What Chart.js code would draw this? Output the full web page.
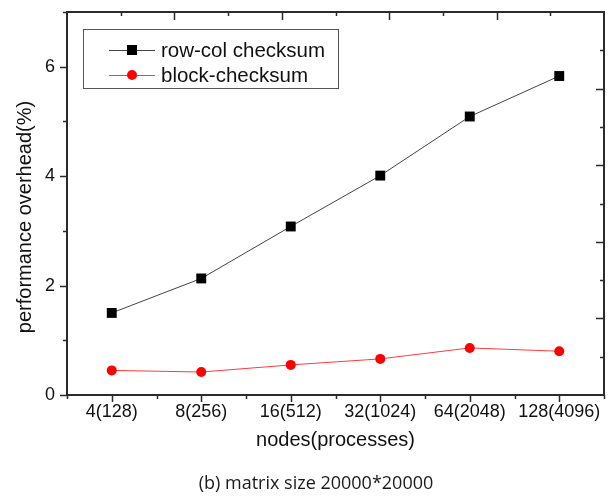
<!DOCTYPE html>
<html>
<head>
<meta charset="utf-8">
<script src="https://cdn.jsdelivr.net/npm/chart.js@4.4.1/dist/chart.umd.min.js"></script>
<style>
  body { margin: 0; background: #fff; }
  #wrap { width: 611px; height: 501px; }
</style>
</head>
<body>
<div id="wrap"><canvas id="chart" width="611" height="501"></canvas></div>
<script>
// ---------------- data ----------------
const categories = ['4(128)', '8(256)', '16(512)', '32(1024)', '64(2048)', '128(4096)'];
const rowColChecksum = [1.5, 2.13, 3.08, 4.01, 5.09, 5.83];
const blockChecksum = [0.45, 0.42, 0.55, 0.66, 0.86, 0.8];
const yTickLabels = [0, 2, 4, 6];
const seriesNames = ['row-col checksum', 'block-checksum'];
const yTitle = 'performance overhead(%)';
const caption = '(b) matrix size 20000*20000';

const FONT = "'Liberation Sans', Arial, sans-serif";
const AXIS = '#2b2b2b';

// ---------------- little tick marks round the frame ----------------
const frameTicks = {
  id: 'frameTicks',
  afterDraw(chart) {
    const ctx = chart.ctx;
    const a = chart.chartArea;
    const s = chart.scales;
    ctx.save();
    ctx.strokeStyle = AXIS;
    ctx.lineWidth = 1.5;
    ctx.beginPath();
    // left axis, outward
    s.y.ticks.forEach(t => {
      const py = Math.round(s.y.getPixelForValue(t.value)) + 0.5;
      const len = t.value % 2 === 0 ? 7 : 4;
      ctx.moveTo(a.left, py); ctx.lineTo(a.left - len, py);
    });
    // right axis, inward
    s.y2.ticks.forEach(t => {
      if (t.value === 0 || t.value === 10) return;
      const py = Math.round(s.y2.getPixelForValue(t.value)) + 0.5;
      const len = t.value % 2 === 0 ? 8 : 4;
      ctx.moveTo(a.right, py); ctx.lineTo(a.right - len, py);
    });
    // top axis, inward
    s.x2.ticks.forEach(t => {
      if (t.value === 0 || t.value === 10) return;
      const px = Math.round(s.x2.getPixelForValue(t.value)) + 0.5;
      const len = t.value % 2 === 0 ? 8 : 4;
      ctx.moveTo(px, a.top); ctx.lineTo(px, a.top + len);
    });
    // bottom axis, outward: long at categories, short between
    const step = s.x.getPixelForValue(1) - s.x.getPixelForValue(0);
    categories.forEach((c, i) => {
      const px = Math.round(s.x.getPixelForValue(i)) + 0.5;
      ctx.moveTo(px, a.bottom); ctx.lineTo(px, a.bottom + 7);
      const bx = Math.round(s.x.getPixelForValue(i) + step / 2) + 0.5;
      ctx.moveTo(bx, a.bottom); ctx.lineTo(bx, a.bottom + 4);
    });
    ctx.moveTo(a.left + 0.5, a.bottom); ctx.lineTo(a.left + 0.5, a.bottom + 4);
    ctx.stroke();

    // y title and caption
    ctx.fillStyle = '#111';
    ctx.textAlign = 'center';
    ctx.textBaseline = 'middle';
    ctx.save();
    ctx.translate(25, 217);
    ctx.rotate(-Math.PI / 2);
    ctx.font = '20px ' + FONT;
    ctx.fillText(yTitle, 0, 0);
    ctx.restore();
    ctx.fillStyle = '#1a1a1a';
    ctx.font = "500 18px 'Open Sans', sans-serif";
    ctx.fillText(caption, 316, 484);
    ctx.restore();
  }
};

// ---------------- boxed legend inside the plot ----------------
const boxLegend = {
  id: 'boxLegend',
  afterDraw(chart) {
    const ctx = chart.ctx;
    const a = chart.chartArea;
    const x0 = a.left + 16, y0 = a.top + 17, w = 255, h = 59;
    ctx.save();
    ctx.fillStyle = '#fff';
    ctx.fillRect(x0, y0, w, h);
    ctx.strokeStyle = '#555';
    ctx.lineWidth = 1;
    ctx.strokeRect(x0 + 0.5, y0 + 0.5, w, h);
    chart.data.datasets.forEach((ds, i) => {
      const cy = y0 + 21 + i * 25;
      ctx.strokeStyle = ds.borderColor;
      ctx.lineWidth = 1;
      ctx.beginPath();
      ctx.moveTo(x0 + 26, cy + 0.5); ctx.lineTo(x0 + 72, cy + 0.5);
      ctx.stroke();
      ctx.fillStyle = ds.pointBackgroundColor;
      if (ds.pointStyle === 'rect') {
        ctx.fillRect(x0 + 44, cy - 5, 10, 10);
      } else {
        ctx.beginPath();
        ctx.arc(x0 + 49, cy, 5, 0, Math.PI * 2);
        ctx.fill();
      }
      ctx.fillStyle = '#111';
      ctx.font = '20.5px ' + FONT;
      ctx.textBaseline = 'middle';
      ctx.fillText(ds.label, x0 + 78, cy + 1);
    });
    ctx.restore();
  }
};

let ctx = document.getElementById('chart').getContext('2d');
let myChart = new Chart(ctx, {
  type: 'line',
  data: {
    labels: categories,
    datasets: [{
      label: seriesNames[0],
      data: rowColChecksum,
      borderColor: '#444',
      borderWidth: 1,
      pointStyle: 'rect',
      pointRadius: 7,
      pointHoverRadius: 7,
      pointBackgroundColor: '#000',
      pointBorderWidth: 0,
      tension: 0
    }, {
      label: seriesNames[1],
      data: blockChecksum,
      borderColor: '#ff3b3b',
      borderWidth: 1,
      pointStyle: 'circle',
      pointRadius: 5,
      pointHoverRadius: 5,
      pointBackgroundColor: '#ff0000',
      pointBorderWidth: 0,
      tension: 0
    }]
  },
  options: {
    responsive: false,
    animation: false,
    layout: { padding: 0 },
    plugins: {
      legend: { display: false },
      tooltip: { enabled: false },
      title: { display: false }
    },
    scales: {
      x: {
        type: 'category',
        position: 'bottom',
        offset: true,
        grid: { drawOnChartArea: false, drawTicks: false },
        border: { display: true, color: AXIS, width: 2 },
        ticks: { color: '#111', font: { family: FONT, size: 18 }, padding: 6, maxRotation: 0, autoSkip: false },
        title: {
          display: true, text: 'nodes(processes)', color: '#111',
          font: { family: FONT, size: 20 }, padding: { top: 2, bottom: 49 }
        },
        afterFit(scale) { scale.height = 106; scale.paddingLeft = 0; scale.paddingRight = 0; }
      },
      x2: {
        type: 'linear',
        position: 'top',
        min: 0, max: 10,
        ticks: { display: false, stepSize: 1 },
        grid: { drawOnChartArea: false, drawTicks: false },
        border: { display: true, color: AXIS, width: 2 },
        afterFit(scale) { scale.height = 12; scale.paddingLeft = 0; scale.paddingRight = 0; }
      },
      y: {
        position: 'left',
        min: 0, max: 7,
        grid: { drawOnChartArea: false, drawTicks: false },
        border: { display: true, color: AXIS, width: 2 },
        ticks: {
          stepSize: 1, autoSkip: false, padding: 12, color: '#111',
          font: { family: FONT, size: 18 },
          callback: v => yTickLabels.includes(v) ? String(v) : ''
        },
        afterFit(scale) { scale.width = 67; scale.paddingTop = 0; scale.paddingBottom = 0; }
      },
      y2: {
        position: 'right',
        min: 0, max: 10,
        ticks: { display: false, stepSize: 1 },
        grid: { drawOnChartArea: false, drawTicks: false },
        border: { display: true, color: AXIS, width: 2 },
        afterFit(scale) { scale.width = 7; scale.paddingTop = 0; scale.paddingBottom = 0; }
      }
    }
  },
  plugins: [frameTicks, boxLegend]
});
</script>
</body>
</html>
